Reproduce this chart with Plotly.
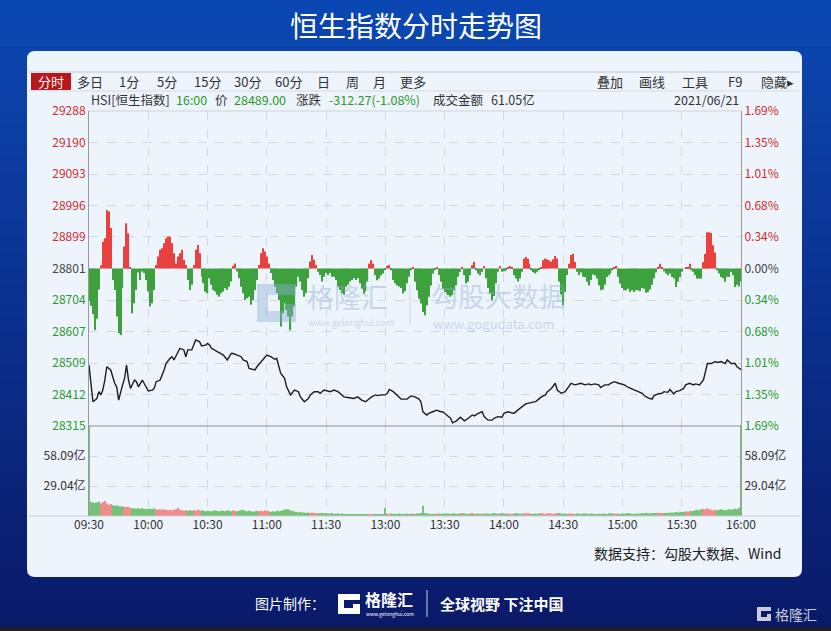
import plotly.graph_objects as go

W, H = 831, 631
FONT = "Noto Sans CJK SC, Noto Sans, sans-serif"

# ---- 数据 ----
prev_close = 28801.27
price_ticks = [29288, 29190, 29093, 28996, 28899, 28801, 28704, 28607, 28509, 28412, 28315]
pct_labels = ["1.69%", "1.35%", "1.01%", "0.68%", "0.34%", "0.00%",
              "0.34%", "0.68%", "1.01%", "1.35%", "1.69%"]
time_labels = ["09:30", "10:00", "10:30", "11:00", "11:30", "13:00",
               "13:30", "14:00", "14:30", "15:00", "15:30", "16:00"]
vol_ticks = [29.04, 58.09]
vol_labels = ["29.04亿", "58.09亿"]
vol_max = 87.13

# 分时价格 (交易分钟序号, 点位)
line_min = [0, 1, 2, 4, 5, 6, 7, 8, 9, 11, 12, 13, 14, 15, 17, 18, 19, 20, 21, 22,
            23, 24, 25, 27, 28, 30, 32, 33, 34, 36, 38, 39, 41, 42, 43, 45, 46, 48, 49, 50,
            52, 54, 56, 57, 59, 60, 61, 62, 65, 67, 68, 70, 72, 73, 75, 77, 78, 80, 81, 83,
            84, 85, 88, 90, 92, 94, 95, 96, 97, 99, 100, 102, 104, 106, 107, 109, 111, 112, 114, 116,
            117, 119, 121, 122, 124, 126, 128, 129, 131, 133, 134, 136, 138, 140, 141, 143, 145, 146, 148, 150,
            151, 152, 154, 156, 158, 161, 163, 165, 167, 168, 169, 171, 172, 174, 176, 178, 179, 181, 183, 184,
            186, 188, 190, 192, 194, 195, 197, 199, 200, 202, 204, 205, 207, 209, 210, 212, 214, 215, 217, 219,
            221, 222, 224, 226, 227, 229, 231, 232, 234, 236, 237, 239, 241, 242, 244, 246, 248, 249, 251, 253,
            254, 256, 258, 259, 261, 263, 264, 266, 268, 270, 271, 273, 275, 276, 278, 280, 281, 283, 285, 286,
            288, 290, 291, 293, 294, 296, 297, 299, 301, 302, 304, 306, 307, 309, 311, 312, 313, 315, 317, 318,
            320, 322, 323, 325, 327, 328, 330]
line_price = [28503, 28447, 28390, 28400, 28421, 28411, 28426, 28457, 28498, 28488, 28467, 28447, 28436, 28395, 28442, 28462, 28503, 28457, 28431, 28447,
              28457, 28452, 28436, 28457, 28447, 28423, 28426, 28431, 28452, 28457, 28488, 28508, 28524, 28529, 28519, 28545, 28555, 28550, 28529, 28550,
              28550, 28581, 28575, 28562, 28565, 28570, 28565, 28555, 28545, 28537, 28534, 28519, 28539, 28539, 28534, 28529, 28519, 28514, 28493, 28488,
              28488, 28498, 28519, 28534, 28529, 28521, 28524, 28498, 28478, 28462, 28436, 28411, 28426, 28421, 28405, 28390, 28400, 28411, 28421, 28421,
              28416, 28426, 28421, 28421, 28426, 28421, 28411, 28405, 28403, 28400, 28400, 28405, 28395, 28390, 28395, 28405, 28411, 28409, 28411, 28411,
              28416, 28428, 28421, 28411, 28398, 28398, 28408, 28405, 28398, 28390, 28359, 28349, 28354, 28359, 28364, 28359, 28359, 28349, 28339, 28325,
              28331, 28342, 28331, 28339, 28349, 28346, 28354, 28359, 28344, 28333, 28333, 28339, 28344, 28342, 28354, 28359, 28357, 28354, 28364, 28375,
              28383, 28385, 28387, 28390, 28395, 28405, 28411, 28421, 28431, 28447, 28426, 28416, 28421, 28431, 28447, 28442, 28447, 28447, 28442, 28445,
              28442, 28445, 28442, 28434, 28442, 28442, 28447, 28452, 28447, 28442, 28442, 28434, 28428, 28426, 28421, 28416, 28409, 28402, 28398, 28409,
              28414, 28416, 28421, 28419, 28428, 28414, 28421, 28424, 28431, 28442, 28447, 28442, 28445, 28442, 28457, 28483, 28508, 28508, 28514, 28511,
              28514, 28508, 28519, 28508, 28508, 28498, 28489]

# 每分钟红绿柱 (相对昨收的点数)
bar_chg = [-100, -115, -140, -190, -155, -65, 10, 83, 94, 181,
           176, 125, -35, -66, -148, -200, -205, -60, 68, 140,
           109, 5, -138, -107, -66, -12, -35, -9, -14, -35,
           -71, -117, -107, -66, 11, 37, 58, 63, 78, 94,
           99, 99, 78, 47, 16, 37, 47, 58, 27, 11,
           -35, -66, -50, 11, 58, 73, 47, -25, -45, -71,
           -76, -30, -50, -66, -71, -81, -87, -76, -71, -61,
           -66, -56, -40, 8, 16, -9, -30, -56, -76, -97,
           -92, -87, -112, -97, -66, -35, 11, 47, 63, 53,
           37, 16, -14, -35, -56, -76, -97, -179, -138, -107,
           -128, -148, -190, -148, -117, -56, -25, -40, -66, -87,
           -76, -30, 22, 42, 27, 11, -10, -20, -40, -25,
           -14, -20, -14, -25, -25, -35, -56, -66, -76, -81,
           -56, -50, -40, -35, -30, -35, -30, -45, -62, -77,
           -70, -40, 15, 26, 15, -20, -36, -31, -21, -15,
           -5, 8, 12, -5, -35, -45, -52, -55, -60, -77,
           -70, -45, -25, -5, 4, -41, -67, -93, -108, -134,
           -144, -113, -87, -52, -15, -5, 5, -20, -41, -62,
           -72, -77, -82, -87, -82, -67, -52, -25, -10, 5,
           -20, -46, -41, -21, 10, 21, -5, -15, -21, -10,
           8, -30, -60, -77, -98, -85, -45, -10, 8, -10,
           -8, -6, 5, 8, 5, -21, -31, -40, -31, -10,
           31, 36, 30, 15, -5, -11, -15, -10, -3, 5,
           26, 31, 29, 26, 21, 29, 39, 31, -40, -80,
           -113, -72, -20, 15, 42, 46, 20, -10, -20, -12,
           -25, -26, -41, -52, -35, -18, -21, -31, -52, -67,
           -65, -50, -26, -21, -15, -5, 5, 8, -25, -46,
           -60, -67, -67, -62, -72, -67, -72, -67, -67, -70,
           -60, -62, -75, -72, -65, -50, -30, -12, 5, 15,
           5, -8, -15, -21, -15, -26, -31, -57, -41, -26,
           -10, 0, 5, 5, 15, -5, -10, -20, -31, -31,
           -31, 20, 45, 112, 112, 110, 72, 50, -5, -15,
           -26, -31, -41, -25, -26, -10, -21, -57, -50, -55,
           -40]

# 每分钟成交额 (亿)
volume = [100, 13.5, 13, 12.5, 13, 14, 12, 13.5, 14.5, 12,
          11, 11.5, 10.5, 10, 10.5, 9.5, 9, 9.5, 9, 8.5,
          9, 8, 7.5, 7.5, 7, 7.5, 7, 7.5, 7, 6.5,
          7, 7, 6.5, 7.5, 6.5, 6, 6.5, 6, 6.5, 6,
          5.5, 6, 5.5, 6, 6.5, 8, 6, 5.5, 5, 5.5,
          5, 5.5, 5, 5.5, 5, 6, 5.5, 5, 5.5, 4.5,
          5, 5, 4.5, 5, 5.5, 5, 4.5, 5, 5, 4.5,
          5.5, 5, 4.5, 5.5, 5, 4.5, 5, 5.5, 6, 5,
          4.5, 5, 4.5, 4, 4.5, 5, 4.5, 5, 4.5, 5.5,
          5, 4.5, 4, 4.5, 4, 5, 4.5, 5, 5.5, 6,
          6.5, 6.5, 5.5, 5, 4.5, 4, 3.5, 4, 3.5, 3.5,
          3, 3.5, 3, 3.5, 3, 3, 2.5, 3, 3, 2.5,
          3, 2.5, 2.5, 3, 2, 2.5, 2.5, 2, 2.5, 2,
          2, 2, 1.5, 2, 1.5, 2, 1.5, 1.5, 2, 1.5,
          1.5, 1.5, 1.5, 1.8, 1.5, 1.3, 1.5, 1.3, 1.5, 1.8,
          8, 2.5, 2, 2.5, 2, 2.2, 2, 2.5, 2, 2.2,
          2, 2.5, 2, 2.2, 2.5, 2, 2.3, 2.5, 2.8, 10,
          3, 2.5, 2.5, 2, 2.2, 2, 2.5, 2.2, 2, 2.5,
          2.3, 2.2, 2.5, 2, 2.3, 2.5, 2, 2.2, 2.5, 2.8,
          2.5, 2.2, 2, 2.5, 2.8, 2.5, 2.2, 2.5, 2, 2.2,
          2.5, 2.3, 2.5, 2, 2.5, 2.8, 2.5, 2.2, 2.5, 3,
          2.5, 2.2, 2.5, 2.2, 2, 2.5, 2.8, 2.5, 2.2, 2.5,
          3, 2.5, 2.8, 2.5, 2.2, 2, 2.5, 2.2, 2.5, 2.8,
          2.5, 2.2, 2.5, 3, 2.5, 2.2, 2.5, 2.8, 3, 2.5,
          2.2, 2.5, 2, 2.3, 2.5, 2.2, 2, 2.5, 2.2, 2,
          2.3, 2.5, 2.2, 2, 2.5, 2.2, 2, 1.8, 2.2, 2,
          2.5, 2.2, 2, 2.5, 2.8, 2.5, 2.2, 2.5, 2.2, 2,
          2.5, 2.2, 2.5, 2.8, 2.5, 2.2, 2, 2.5, 2.2, 2.5,
          2.8, 2.5, 2.8, 3, 2.5, 2.8, 3, 2.8, 3.2, 3,
          2.8, 3, 3.2, 3, 3.5, 3.2, 3.5, 3.8, 3.5, 4,
          3.8, 4, 4.5, 4.2, 5, 4.5, 5, 5.5, 6, 5.5,
          6.5, 7, 6.5, 7.5, 6.5, 6, 5.5, 6, 5.5, 6,
          6.5, 6, 5.5, 6, 6.5, 6, 6.5, 7, 6.5, 8,
          100]

minutes = list(range(len(bar_chg)))

# ---- 颜色 ----
RED, GREEN = "#e8413f", "#3da23d"
RED_T, GREEN_T, GRAY_T = "#d42a2a", "#2a9a2a", "#444444"
PANEL = "#edf4fc"
GRID = "#d3d9e2"


def px(x):
    return x / W


def py(y):
    return 1 - y / H


def tick_color(v):
    if v > prev_close + 1:
        return RED_T
    if v < prev_close - 1:
        return GREEN_T
    return GRAY_T


def poly(points):
    s = "M " + " L ".join(f"{px(x):.5f},{py(y):.5f}" for x, y in points) + " Z"
    return s


def rrect(x0, y0, x1, y1, r):
    p = lambda x, y: f"{px(x):.5f},{py(y):.5f}"
    return (f"M {p(x0 + r, y0)} L {p(x1 - r, y0)} Q {p(x1, y0)} {p(x1, y0 + r)} "
            f"L {p(x1, y1 - r)} Q {p(x1, y1)} {p(x1 - r, y1)} L {p(x0 + r, y1)} "
            f"Q {p(x0, y1)} {p(x0, y1 - r)} L {p(x0, y0 + r)} Q {p(x0, y0)} {p(x0 + r, y0)} Z")


def text(x, y, s, size=12, color="#333333", anchor="left"):
    return dict(x=px(x), y=py(y), xref="paper", yref="paper", text=s, showarrow=False,
                xanchor=anchor, yanchor="middle", font=dict(family=FONT, size=size, color=color))


def hline(x0, x1, y, color, width=1, layer="above"):
    return dict(type="line", xref="paper", yref="paper", x0=px(x0), x1=px(x1), y0=py(y), y1=py(y),
                line=dict(color=color, width=width), layer=layer)


# ---- 图形 ----
fig = go.Figure()

fig.add_trace(go.Bar(
    x=minutes, y=bar_chg, base=prev_close, width=0.62,
    marker=dict(color=[RED if v > 0 else GREEN for v in bar_chg], line_width=0),
    xaxis="x2", yaxis="y", hoverinfo="skip"))

fig.add_trace(go.Scatter(
    x=line_min, y=line_price, mode="lines", line=dict(color="#1e1e1e", width=1.4),
    xaxis="x2", yaxis="y3", hoverinfo="skip"))

fig.add_trace(go.Bar(
    x=minutes, y=volume, width=0.62,
    marker=dict(color=["#ef8c8c" if v > 0 else "#74c274" for v in bar_chg], line_width=0),
    xaxis="x", yaxis="y2", hoverinfo="skip"))

fig.add_trace(go.Scatter(x=[0], y=[0], mode="markers", marker=dict(opacity=0),
                         xaxis="x", yaxis="y4", hoverinfo="skip"))

x_dom = [px(89), px(741)]
tick_font = dict(family=FONT, size=12, color="#333333")
grid = dict(showgrid=True, gridcolor=GRID, griddash="dash", gridwidth=1, zeroline=False)

fig.update_layout(
    width=W, height=H, template="none", showlegend=False, barmode="overlay",
    margin=dict(l=0, r=0, t=0, b=0),
    paper_bgcolor="#0a2a8a", plot_bgcolor="rgba(0,0,0,0)",
    font=dict(family=FONT),
    xaxis=dict(domain=x_dom, range=[0, 330], anchor="y2", tickvals=list(range(0, 331, 30)),
               ticktext=time_labels, ticks="", tickfont=tick_font, showline=False, **grid),
    xaxis2=dict(domain=x_dom, matches="x", anchor="y", showticklabels=False, ticks="",
                tickvals=list(range(0, 331, 30)), showline=False, **grid),
    yaxis=dict(domain=[py(426), py(111)], range=[price_ticks[-1], price_ticks[0]], anchor="x2",
               tickvals=price_ticks, ticks="", tickfont=tick_font,
               ticktext=[f'<span style="color:{tick_color(v)}">{v}</span>' for v in price_ticks],
               showline=True, linecolor="#9a9a9a", **grid),
    yaxis3=dict(overlaying="y", side="right", anchor="x2", range=[price_ticks[-1], price_ticks[0]],
                tickvals=price_ticks, ticks="", tickfont=tick_font,
                ticktext=[f'<span style="color:{tick_color(v)}">{t}</span>'
                          for v, t in zip(price_ticks, pct_labels)],
                showgrid=False, zeroline=False, showline=True, linecolor="#9a9a9a"),
    yaxis2=dict(domain=[py(516), py(426)], range=[0, vol_max], anchor="x",
                tickvals=vol_ticks, ticktext=vol_labels, ticks="", tickfont=tick_font,
                showline=True, linecolor="#9a9a9a", **grid),
    yaxis4=dict(overlaying="y2", side="right", anchor="x", range=[0, vol_max],
                tickvals=vol_ticks, ticktext=vol_labels, ticks="", tickfont=tick_font,
                showgrid=False, zeroline=False, showline=True, linecolor="#9a9a9a"),
)

# 背景渐变 + 白色面板
shapes = []
n_band = 40
top, bot = (11, 71, 178), (10, 26, 105)
for i in range(n_band):
    t = i / (n_band - 1)
    c = tuple(round(a + (b - a) * t) for a, b in zip(top, bot))
    shapes.append(dict(type="rect", xref="paper", yref="paper", x0=0, x1=1,
                       y0=py((i + 1) * H / n_band + 0.5), y1=py(i * H / n_band),
                       fillcolor=f"rgb{c}", line_width=0, layer="below"))
shapes.append(dict(type="rect", xref="paper", yref="paper", x0=0, x1=1, y0=0, y1=py(627),
                   fillcolor="#1f2024", line_width=0, layer="below"))
shapes.append(dict(type="path", xref="paper", yref="paper", path=rrect(27, 51, 802, 577, 8),
                   fillcolor=PANEL, line_width=0, layer="below"))

# 工具栏
shapes.append(hline(29, 800, 72, "#c3c8d0"))
shapes.append(hline(29, 800, 91, "#d6dbe3"))
shapes.append(dict(type="rect", xref="paper", yref="paper", x0=px(31), x1=px(71),
                   y0=py(90), y1=py(73), fillcolor="#b8171c", line_width=0))
# 边框线
shapes.append(hline(89, 741, 111, "#cfd4dc"))
shapes.append(hline(89, 741, 426, "#8c8c8c"))
shapes.append(hline(29, 800, 516, "#c8cdd4"))

# 水印
WM = "rgba(140,172,212,0.42)"
shapes.append(dict(type="path", xref="paper", yref="paper", layer="above", line_width=0, fillcolor=WM,
                   path=poly([(257, 284), (296, 284), (296, 295), (268, 295), (268, 311), (284, 311),
                              (284, 304), (296, 304), (296, 322), (257, 322)])))
shapes.append(dict(type="line", xref="paper", yref="paper", x0=px(410), x1=px(410), y0=py(285),
                   y1=py(326), line=dict(color=WM, width=1)))

# 页脚 logo
shapes.append(dict(type="path", xref="paper", yref="paper", layer="above", line_width=0, fillcolor="white",
                   path=poly([(338, 594), (360, 594), (360, 600), (344, 600), (344, 608), (353, 608),
                              (353, 604), (360, 604), (360, 614), (338, 614)])))
shapes.append(dict(type="line", xref="paper", yref="paper", x0=px(427), x1=px(427), y0=py(590),
                   y1=py(617), line=dict(color="rgba(255,255,255,0.8)", width=1)))
shapes.append(dict(type="path", xref="paper", yref="paper", layer="above", line_width=0, fillcolor="#c9ccd6",
                   path=poly([(757, 607), (771, 607), (771, 611), (761, 611), (761, 617), (767, 617),
                              (767, 614), (771, 614), (771, 621), (757, 621)])))

annotations = [
    text(416, 25, "恒生指数分时走势图", size=28, color="white", anchor="center"),
    text(51, 82, "分时", size=13, color="white", anchor="center"),
]
for label, cx in [("多日", 90), ("1分", 129), ("5分", 167), ("15分", 207), ("30分", 247),
                  ("60分", 288), ("日", 323), ("周", 352), ("月", 379), ("更多", 413),
                  ("叠加", 610), ("画线", 652), ("工具", 695), ("F9", 735), ("隐藏▸", 777)]:
    annotations.append(text(cx, 82, label, size=13, color="#333333", anchor="center"))

annotations += [
    text(89, 100, "HSI[恒生指数]", size=12.5),
    text(174, 100, "16:00", size=12.5, color=GREEN_T),
    text(213, 100, "价", size=12.5),
    text(232, 100, "28489.00", size=12.5, color=GREEN_T),
    text(294, 100, "涨跌", size=12.5),
    text(327, 100, "-312.27(-1.08%)", size=12.5, color=GREEN_T),
    text(431, 100, "成交金额", size=12.5),
    text(489, 100, "61.05亿", size=12.5),
    text(741, 100, "2021/06/21", size=12.5, anchor="right"),
    # 水印文字
    text(305, 297, "格隆汇", size=27, color=WM),
    text(306, 322, "www.gelonghui.com", size=9, color=WM),
    text(429, 295, "勾股大数据", size=27, color=WM),
    text(431, 323, "www.gogudata.com", size=13, color=WM),
    # 底部
    text(783, 553, "数据支持：勾股大数据、Wind", size=14, color="#222222", anchor="right"),
    text(253, 603, "图片制作：", size=14, color="white"),
    text(363, 599, "<b>格隆汇</b>", size=16, color="white"),
    text(364, 614, "www.gelonghui.com", size=5, color="white"),
    text(438, 603, "<b>全球视野 下注中国</b>", size=15, color="white"),
    text(773, 614, "格隆汇", size=14, color="#c9ccd6"),
]

fig.update_layout(shapes=shapes, annotations=annotations)

fig.write_html("out.html", config={"displayModeBar": False},
               post_script="document.body.style.margin='0';document.body.style.overflow='hidden';")
